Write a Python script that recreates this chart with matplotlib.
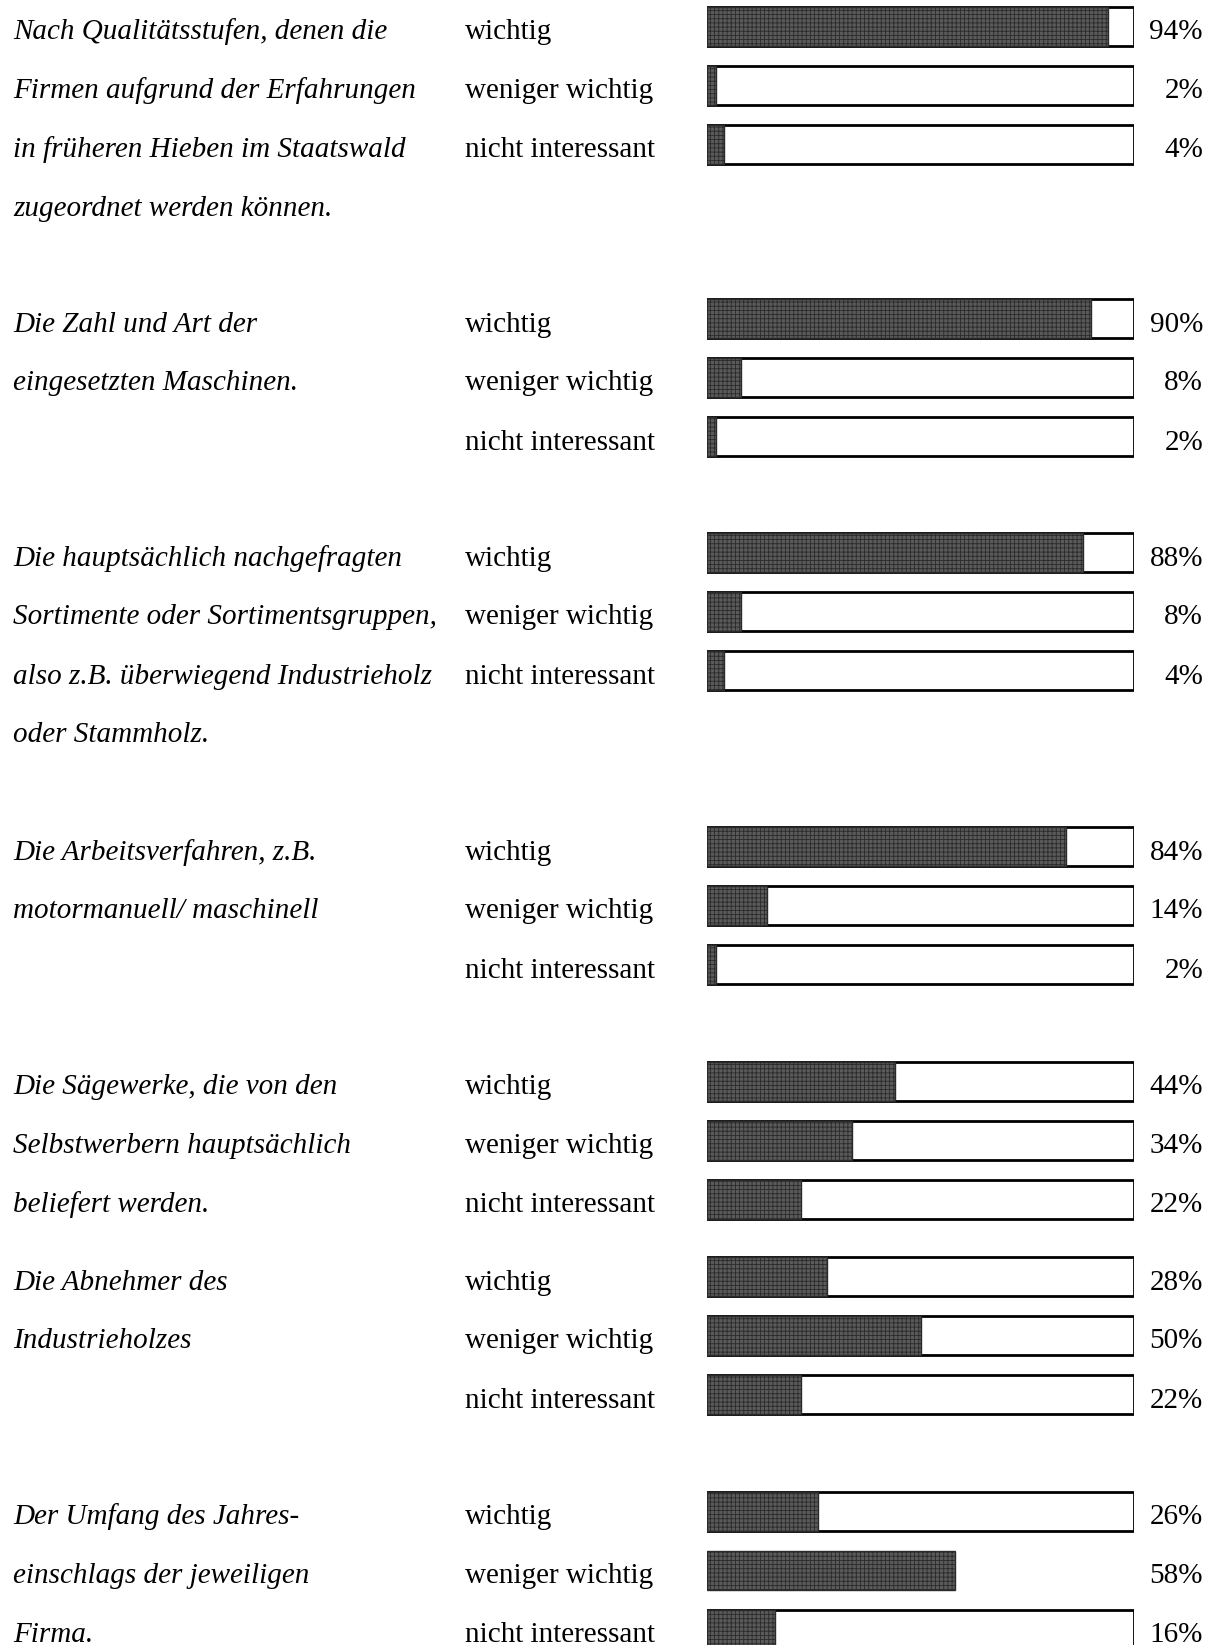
import matplotlib.pyplot as plt

# Fragen (Zeilen der linken Spalte) und Antworten in Prozent
fragen = [
    ["Nach Qualitätsstufen, denen die", "Firmen aufgrund der Erfahrungen",
     "in früheren Hieben im Staatswald", "zugeordnet werden können."],
    ["Die Zahl und Art der", "eingesetzten Maschinen."],
    ["Die hauptsächlich nachgefragten", "Sortimente oder Sortimentsgruppen,",
     "also z.B. überwiegend Industrieholz", "oder Stammholz."],
    ["Die Arbeitsverfahren, z.B.", "motormanuell/ maschinell"],
    ["Die Sägewerke, die von den", "Selbstwerbern hauptsächlich",
     "beliefert werden."],
    ["Die Abnehmer des", "Industrieholzes"],
    ["Der Umfang des Jahres-", "einschlags der jeweiligen", "Firma."],
]
antworten = ["wichtig", "weniger wichtig", "nicht interessant"]
wichtig = [94, 90, 88, 84, 44, 28, 26]
weniger_wichtig = [2, 8, 8, 14, 34, 50, 58]
nicht_interessant = [4, 2, 4, 2, 22, 22, 16]
# Balken ohne weissen Rahmen im Original (Gruppe, Antwort)
ohne_rahmen = [(6, 1)]

# Layout in Pixeln
W, H = 1214, 1645
gruppen_start = [26, 318.5, 552.5, 846.5, 1081, 1276.5, 1511]
zeile = 59.0
bar_h = 39
fs = 21
font = "Liberation Serif"

plt.rcParams["hatch.linewidth"] = 0.6

fig = plt.figure(figsize=(W / 100, H / 100), dpi=100)
ax = fig.add_axes([0, 0, 1, 1])
ax.set_xlim(0, W)
ax.set_ylim(H, 0)
ax.axis("off")

bx = fig.add_axes([707 / W, 0, 427 / W, 1])
bx.set_xlim(0, 100)
bx.set_ylim(H, 0)
bx.axis("off")

werte = list(zip(wichtig, weniger_wichtig, nicht_interessant))

for g, (zeilen, vals) in enumerate(zip(fragen, werte)):
    y0 = gruppen_start[g]
    for i, t in enumerate(zeilen):
        ax.text(13, y0 + i * zeile + 13, t, fontsize=fs, family=font,
                style="italic", va="baseline", ha="left")
    for i, (a, v) in enumerate(zip(antworten, vals)):
        y = y0 + i * zeile
        ax.text(465, y + 13, a, fontsize=fs, family=font, va="baseline", ha="left")
        ax.text(1203, y + 13, f"{v}%", fontsize=fs, family=font, va="baseline", ha="right")
        if (g, i) not in ohne_rahmen:
            bx.barh(y, 100, height=bar_h, left=0, color="white",
                    edgecolor="black", linewidth=2, zorder=1)
        bx.barh(y, v, height=bar_h, left=0, color="#5a5a5a", hatch="++++",
                edgecolor="#2a2a2a", linewidth=1, zorder=2)

fig.savefig("out.png", dpi=100)
